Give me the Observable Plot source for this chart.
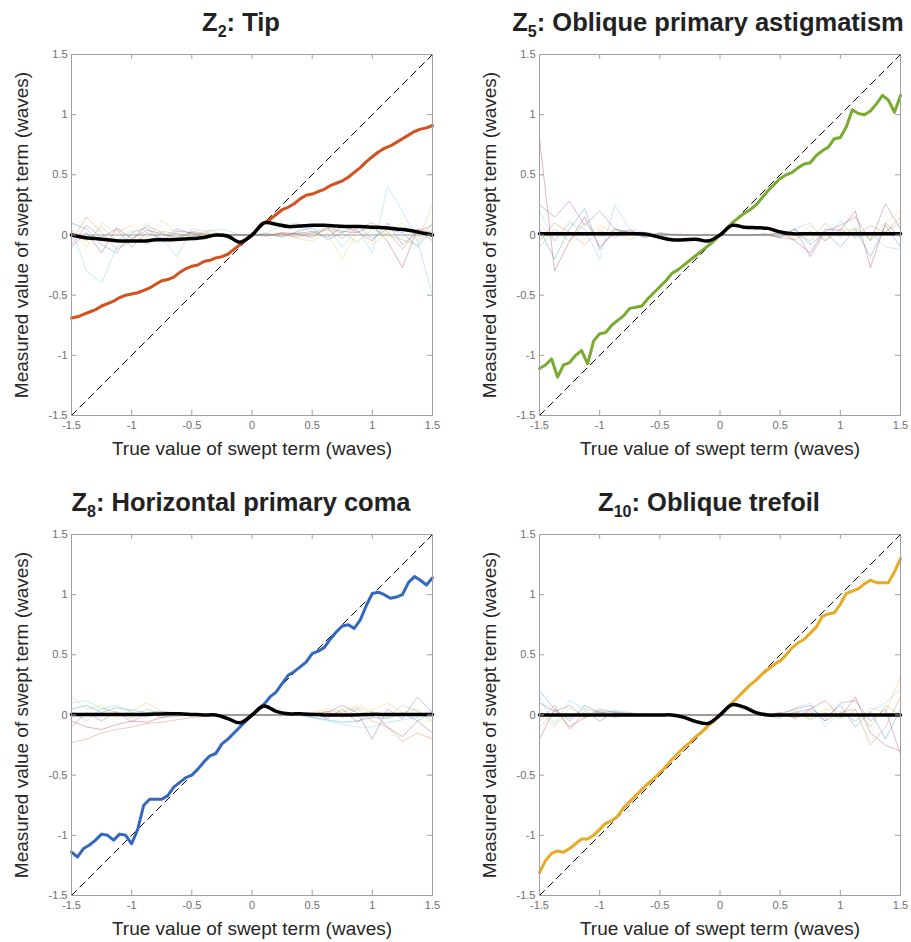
<!DOCTYPE html>
<html>
<head>
<meta charset="utf-8">
<script src="https://cdn.jsdelivr.net/npm/d3@7"></script>
<script src="https://cdn.jsdelivr.net/npm/@observablehq/plot@0.6"></script>
<style>
  body { margin: 0; background: #fff; font-family: "Liberation Sans", Arial, sans-serif; }
  #root { position: relative; width: 911px; height: 942px; overflow: hidden; }
  .title { position: absolute; font-weight: bold; font-size: 25.5px; line-height: 24px; color: #222; white-space: nowrap; transform: translateX(-50%); }
  .title sub { font-size: 16px; position: relative; top: 6px; vertical-align: baseline; line-height: 0; }
  .panel { position: absolute; }
</style>
</head>
<body>
<div id="root"></div>
<script>
// ---------- data ----------
const tickVals = [-1.5, -1, -0.5, 0, 0.5, 1, 1.5];
const diagX = [-1.5, 1.5];
const diagY = [-1.5, 1.5];

const xFine = [-1.5,-1.45,-1.4,-1.35,-1.3,-1.25,-1.2,-1.15,-1.1,-1.05,-1,-0.95,-0.9,-0.85,-0.8,-0.75,-0.7,-0.65,-0.6,-0.55,-0.5,-0.45,-0.4,-0.35,-0.3,-0.25,-0.2,-0.15,-0.1,-0.05,0,0.05,0.1,0.15,0.2,0.25,0.3,0.35,0.4,0.45,0.5,0.55,0.6,0.65,0.7,0.75,0.8,0.85,0.9,0.95,1,1.05,1.1,1.15,1.2,1.25,1.3,1.35,1.4,1.45,1.5];
const xMid = [-1.5,-1.4,-1.3,-1.2,-1.1,-1,-0.9,-0.8,-0.7,-0.6,-0.5,-0.4,-0.3,-0.2,-0.1,0,0.1,0.2,0.3,0.4,0.5,0.6,0.7,0.8,0.9,1,1.1,1.2,1.3,1.4,1.5];
const xNoise = [-1.5,-1.375,-1.25,-1.125,-1,-0.875,-0.75,-0.625,-0.5,-0.375,-0.25,-0.125,0,0.125,0.25,0.375,0.5,0.625,0.75,0.875,1,1.125,1.25,1.375,1.5];

const titles = ["Tip", "Oblique primary astigmatism", "Horizontal primary coma", "Oblique trefoil"];
const zIndex = ["2", "5", "8", "10"];
const lineColors = ["#D4501C", "#77AC30", "#3468C0", "#E8AA22"];
const noiseColors = ["#0072BD", "#D95319", "#EDB120", "#7E2F8E", "#77AC30", "#4DBEEE", "#A2142F"];
const xLabel = "True value of swept term (waves)";
const yLabel = "Measured value of swept term (waves)";

// measured (thick coloured) series, on xFine
const tipMeasured = [-0.69,-0.68,-0.66,-0.64,-0.62,-0.59,-0.57,-0.55,-0.52,-0.50,-0.49,-0.48,-0.46,-0.44,-0.41,-0.38,-0.37,-0.35,-0.31,-0.28,-0.26,-0.25,-0.22,-0.21,-0.19,-0.18,-0.16,-0.12,-0.08,-0.04,0.00,0.05,0.10,0.13,0.17,0.21,0.23,0.26,0.30,0.33,0.34,0.36,0.38,0.41,0.43,0.45,0.48,0.52,0.56,0.61,0.65,0.69,0.72,0.74,0.77,0.80,0.83,0.86,0.88,0.89,0.91];
const astigMeasured = [-1.11,-1.08,-1.03,-1.18,-1.08,-1.06,-1.00,-0.96,-1.07,-0.88,-0.82,-0.81,-0.75,-0.71,-0.67,-0.61,-0.60,-0.59,-0.53,-0.48,-0.43,-0.38,-0.32,-0.29,-0.25,-0.21,-0.17,-0.13,-0.09,-0.05,0.00,0.05,0.10,0.14,0.18,0.21,0.25,0.31,0.37,0.42,0.47,0.50,0.52,0.56,0.59,0.60,0.66,0.70,0.73,0.80,0.81,0.90,1.04,1.01,1.00,1.03,1.09,1.16,1.12,1.02,1.16];
const comaMeasured = [-1.14,-1.18,-1.11,-1.08,-1.04,-0.99,-1.00,-1.04,-0.99,-1.00,-1.07,-0.95,-0.75,-0.70,-0.70,-0.70,-0.67,-0.60,-0.56,-0.52,-0.50,-0.45,-0.39,-0.34,-0.32,-0.24,-0.20,-0.15,-0.10,-0.05,0.00,0.05,0.09,0.15,0.19,0.26,0.33,0.36,0.40,0.44,0.51,0.53,0.56,0.63,0.69,0.74,0.75,0.72,0.79,0.91,1.01,1.02,1.00,0.97,0.98,1.00,1.10,1.15,1.12,1.08,1.14];
const trefoilMeasured = [-1.31,-1.21,-1.15,-1.13,-1.14,-1.11,-1.07,-1.03,-1.03,-1.00,-0.95,-0.90,-0.88,-0.84,-0.77,-0.72,-0.67,-0.62,-0.57,-0.53,-0.48,-0.43,-0.37,-0.32,-0.27,-0.23,-0.18,-0.14,-0.09,-0.05,0.00,0.05,0.10,0.15,0.20,0.25,0.29,0.34,0.38,0.42,0.45,0.50,0.56,0.60,0.63,0.68,0.73,0.82,0.84,0.85,0.92,1.01,1.03,1.05,1.09,1.12,1.10,1.10,1.10,1.19,1.30];

// mean cross-talk (thick black) series, on xMid
const tipBlack = [0,-0.02,-0.03,-0.04,-0.05,-0.05,-0.05,-0.04,-0.04,-0.035,-0.03,-0.02,0,-0.01,-0.06,0,0.1,0.09,0.07,0.075,0.08,0.08,0.075,0.07,0.07,0.065,0.06,0.05,0.04,0.02,0];
const astigBlack = [0.01,0.01,0.01,0.01,0.01,0.01,0.01,0.01,0.01,0.005,-0.02,-0.04,-0.04,-0.035,-0.05,0,0.08,0.065,0.06,0.055,0.025,0.01,0.01,0.01,0.01,0.01,0.01,0.01,0.01,0.01,0.01];
const comaBlack = [0.005,0.005,0.005,0.005,0.005,0.005,0.005,0.008,0.01,0.01,0.005,0,0,-0.03,-0.065,0,0.075,0.03,0.01,0.01,0.005,0,0,0,0.002,0.005,0.005,0.005,0.005,0.005,0.005];
const trefoilBlack = [0,0,0,0,0,0,0,0,0,0,0,0,-0.02,-0.055,-0.07,0,0.085,0.065,0.02,0,0,0,0,0,0,0,0,0,0,0,0];

// other terms (thin lines), on xNoise
const tipNoise = [
  [0.10,0.05,-0.08,-0.15,0.02,0.06,-0.05,0.03,0.02,-0.03,0.01,0,0,0.01,-0.02,0.03,0.06,-0.04,0.02,0.08,-0.03,0.05,0.02,-0.1,0.05],
  [-0.05,0.15,0.02,-0.12,-0.05,0.08,0.02,-0.04,0.03,0.01,-0.01,0,0,0,0.01,-0.02,0.02,0.05,-0.03,0.06,0.1,0.03,-0.12,0.05,0.02],
  [0.05,-0.1,0.1,0.02,0.08,-0.03,0.12,0.02,-0.02,0.04,0.01,0,0,0.01,0.02,-0.03,-0.05,0.02,-0.2,0.03,-0.08,0.02,0.1,-0.05,0.25],
  [-0.08,0.08,-0.02,0.05,-0.1,0.02,-0.03,0.05,0.01,-0.02,0,0,0,-0.01,0.02,0.01,0.03,-0.02,0.07,0.03,-0.05,0.1,-0.08,0.03,0.08],
  [0.02,-0.05,0.07,-0.05,0.04,-0.08,0.03,0.01,-0.01,0.02,0,0,0,0,-0.01,0.02,0.01,0.04,0.02,-0.06,0.05,0,-0.04,-0.08,0.1],
  [0.05,-0.3,-0.4,-0.1,-0.05,0.1,-0.03,-0.18,0.05,0.03,0.05,0.01,0,0.02,0.08,0.1,0.02,0.07,-0.1,0.05,-0.15,0.4,0.2,-0.05,-0.5],
  [-0.1,0.02,-0.15,0.06,-0.03,0.04,0.01,-0.02,0.02,0,0,0,0,0,0.01,0.01,-0.02,0.06,0.03,0.02,0.08,-0.05,-0.27,0.05,-0.05]
];
const astigNoise = [
  [0.05,-0.2,0.05,0.22,-0.12,0.05,0.02,-0.02,0.02,0,0,0,0,0,0,0.01,-0.02,0.05,-0.08,0.02,-0.1,0.05,-0.18,0.08,-0.1],
  [-0.05,0.1,0.02,-0.08,0.04,-0.02,0.03,0.01,0,0.01,0,0,0,0,0,0,-0.02,-0.04,0.03,-0.05,0.05,-0.02,0.08,0.02,0.15],
  [0.1,-0.05,0.12,-0.03,0.08,0.02,-0.04,0.02,0.01,0,0,0,0,0,0,0,0.02,-0.03,0.08,-0.04,0.03,0.05,-0.02,0.1,0.2],
  [0.25,0.15,0.28,0.08,0.2,0.05,0.02,-0.02,0.01,0,0,0,0,0,0,0,-0.01,0.05,-0.18,0.03,0.08,0.15,-0.05,0.26,0.05],
  [-0.1,0.05,-0.05,0.1,-0.02,0.04,0.01,0,0,0,0,0,0,0,0,0,0.01,0.02,-0.05,0.1,-0.02,0.06,-0.04,0.03,0.1],
  [0.2,-0.05,0.1,0.05,-0.2,0.25,0.05,0.02,0,0,0,0,0,0,0,0.01,-0.03,0.05,0.1,-0.05,0.12,-0.03,0.02,-0.1,-0.12],
  [0.8,-0.3,-0.05,0.15,-0.1,0.02,0.04,-0.01,0.01,0,0,0,0,0,0,0,0.02,-0.05,-0.15,0.05,0.04,0.2,-0.27,0.1,-0.02]
];
const comaNoise = [
  [0.05,0.08,0.02,0.06,0.04,0.02,0.03,0.01,0,0,0,0,0,0,0,0,-0.02,-0.04,-0.06,-0.05,-0.02,-0.03,0.02,-0.05,0.03],
  [-0.23,-0.2,-0.15,-0.12,-0.1,-0.07,-0.06,-0.04,-0.02,-0.01,0,0,0,0,0,0,0.01,0.03,-0.02,0.05,-0.05,-0.1,-0.22,-0.15,-0.2],
  [0.15,0.05,0.08,-0.02,0.04,0.1,0.03,0.02,0.01,0,0,0,0,0,0,0,0.02,0.05,0.03,0.08,0.04,0.1,0.02,0.05,-0.08],
  [-0.1,0.02,-0.05,0.03,-0.06,0.02,-0.02,0.01,0,0,0,0,0,0,0,0,0.01,0.02,0.08,0.02,-0.2,0.05,-0.03,0.15,0.02],
  [0.03,-0.05,0.06,0.02,-0.03,0.05,0.01,0,0,0,0,0,0,0,0,0,0,0.03,0.02,0.06,0.02,-0.02,0.08,0.03,-0.05],
  [0.1,0.12,0.05,0.08,0.02,-0.02,0.01,0,0,0,0,0,0,0,0,0,-0.02,-0.05,-0.08,-0.1,-0.1,-0.06,-0.04,-0.02,0.05],
  [-0.05,-0.1,-0.12,-0.08,-0.05,-0.06,-0.02,-0.01,0,0,0,0,0,0,0,0,0.02,-0.03,0.05,-0.06,0.03,-0.1,-0.18,-0.05,-0.15]
];
const trefoilNoise = [
  [0.2,0.05,-0.05,0.08,0.02,0.03,0.01,0,0,0,0,0,0,0,0,0,-0.01,0.02,0.05,-0.02,0.08,-0.1,0.03,-0.2,0.05],
  [-0.05,0.08,-0.12,0.03,-0.05,0.02,0,0.01,0,0,0,0,0,0,0,0,0.01,-0.02,0.03,-0.05,0.02,0.05,-0.25,-0.1,0.15],
  [0.05,-0.1,0.06,-0.03,0.04,0.01,0.02,0,0,0,0,0,0,0,0,0,0.02,0.04,-0.03,0.05,0.03,-0.05,0.06,0.02,0.32],
  [0.1,0.03,0.08,-0.02,0.05,0.02,0.01,0,0,0,0,0,0,0,0,0,0.01,0.05,0.08,-0.05,0.1,0.12,-0.05,0.05,-0.33],
  [-0.1,0.03,-0.03,0.05,0.02,-0.02,0,0,0,0,0,0,0,0,0,0,-0.02,0.03,-0.04,0.02,-0.03,0.04,-0.1,0.08,0],
  [0.15,-0.08,0.12,0.05,-0.05,0.04,0.02,0,0,0,0,0,0,0,0,0,-0.03,0.06,0.1,-0.1,0.02,-0.05,0.03,0.1,0.22],
  [-0.2,0.05,-0.1,-0.02,0.03,-0.01,0.01,0,0,0,0,0,0,0,0,0,0.02,-0.03,0.05,0.12,-0.02,0.15,-0.15,-0.25,-0.3]
];

const measured = [tipMeasured, astigMeasured, comaMeasured, trefoilMeasured];
const blacks = [tipBlack, astigBlack, comaBlack, trefoilBlack];
const noises = [tipNoise, astigNoise, comaNoise, trefoilNoise];

// ---------- layout ----------
const panelLeft = [0, 468, 0, 468];
const panelTop = [40, 40, 520, 520];
const panelMarginRight = [20, 11, 20, 11];
const titleCenter = [241, 708, 241, 709];
const titleTop = [10, 10, 490, 490];

const rows = (xs, ys) => xs.map((x, i) => ({x, y: ys[i]}));
const root = document.getElementById("root");

for (let p = 0; p < 4; p++) {
  const t = document.createElement("div");
  t.className = "title";
  t.style.left = titleCenter[p] + "px";
  t.style.top = titleTop[p] + "px";
  t.innerHTML = `Z<sub>${zIndex[p]}</sub>: ${titles[p]}`;
  root.appendChild(t);

  const gridStroke = "#a0a0a0";
  const marks = [];
  noises[p].forEach((s, i) => {
    marks.push(Plot.line(rows(xNoise, s), {x: "x", y: "y", stroke: noiseColors[i], strokeWidth: 0.7, strokeOpacity: 0.45}));
  });
  marks.push(Plot.ruleY([0], {stroke: "#999", strokeWidth: 0.9}));
  marks.push(Plot.line(rows(diagX, diagY), {x: "x", y: "y", stroke: "#000", strokeWidth: 1, strokeDasharray: "7,5"}));
  marks.push(Plot.line(rows(xFine, measured[p]), {x: "x", y: "y", stroke: lineColors[p], strokeWidth: 3}));
  marks.push(Plot.line(rows(xMid, blacks[p]), {x: "x", y: "y", stroke: "#000", strokeWidth: 3.5, curve: "catmull-rom"}));
  marks.push(Plot.frame({stroke: gridStroke, strokeWidth: 1}));
  marks.push(Plot.tickX(tickVals, {x: d => d, stroke: gridStroke, insetTop: 356}));
  marks.push(Plot.tickX(tickVals, {x: d => d, stroke: gridStroke, insetBottom: 356}));
  marks.push(Plot.tickY(tickVals, {y: d => d, stroke: gridStroke, insetRight: 356}));
  marks.push(Plot.tickY(tickVals, {y: d => d, stroke: gridStroke, insetLeft: 356}));
  marks.push(Plot.axisX(tickVals, {tickSize: 0, tickPadding: 6, fontSize: 11, fill: "#6e6e6e", tickFormat: d => String(d), label: null}));
  marks.push(Plot.axisY(tickVals, {tickSize: 0, tickPadding: 4, fontSize: 11, fill: "#6e6e6e", tickFormat: d => String(d), label: null}));
  marks.push(Plot.text([xLabel], {text: d => d, frameAnchor: "bottom", textAnchor: "middle", lineAnchor: "middle", dy: 33, fontSize: 19, fill: "#262626"}));
  marks.push(Plot.text([yLabel], {text: d => d, frameAnchor: "left", textAnchor: "middle", lineAnchor: "middle", dx: -50, rotate: -90, fontSize: 19, fill: "#262626"}));

  const chart = Plot.plot({
    width: 71 + 361 + panelMarginRight[p],
    height: 14 + 361 + 52,
    marginTop: 14,
    marginLeft: 71,
    marginRight: panelMarginRight[p],
    marginBottom: 52,
    x: {domain: [-1.5, 1.5]},
    y: {domain: [-1.5, 1.5]},
    style: {fontFamily: '"Liberation Sans", Arial, sans-serif', background: "transparent", overflow: "visible"},
    marks
  });
  chart.classList.add("panel");
  chart.style.left = panelLeft[p] + "px";
  chart.style.top = panelTop[p] + "px";
  chart.style.position = "absolute";
  root.appendChild(chart);
}
</script>
</body>
</html>
